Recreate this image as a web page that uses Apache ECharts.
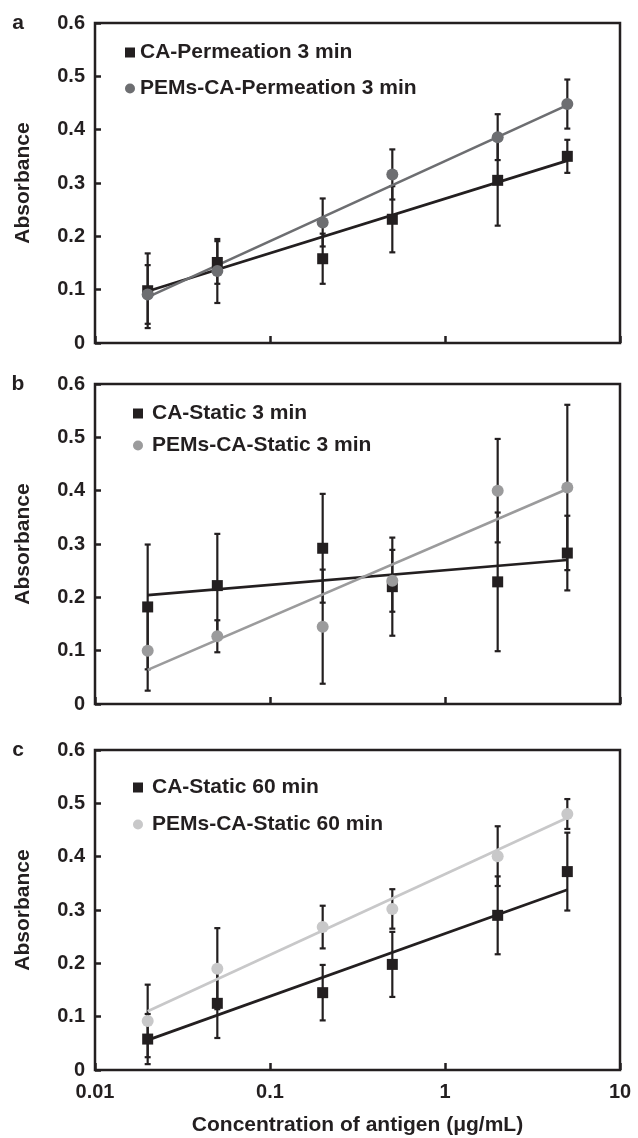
<!DOCTYPE html>
<html>
<head>
<meta charset="utf-8">
<script src="https://cdn.jsdelivr.net/npm/echarts@6/dist/echarts.min.js"></script>
<style>
html,body{margin:0;padding:0;background:#fff;}
#chart{width:638px;height:1138px;}
</style>
</head>
<body>
<div id="chart"></div>
<script>
// ---- data ----
const concentrations = [0.02, 0.05, 0.2, 0.5, 2, 5];
const fitX = [0.02, 5];
const xTickLabels = ['0.01', '0.1', '1', '10'];
const yTickLabels = ['0', '0.1', '0.2', '0.3', '0.4', '0.5', '0.6'];
const panelLetters = ['a', 'b', 'c'];

// panel a
const caPermName = 'CA-Permeation 3 min';
const caPerm = [0.098, 0.151, 0.158, 0.232, 0.305, 0.350];
const caPermErr = [0.070, 0.040, 0.047, 0.062, 0.085, 0.031];
const caPermFit = [0.097, 0.342];
const pemsPermName = 'PEMs-CA-Permeation 3 min';
const pemsPerm = [0.091, 0.135, 0.226, 0.316, 0.386, 0.448];
const pemsPermErr = [0.055, 0.060, 0.045, 0.047, 0.043, 0.046];
const pemsPermFit = [0.086, 0.446];

// panel b
const caStatic3Name = 'CA-Static 3 min';
const caStatic3 = [0.182, 0.222, 0.292, 0.220, 0.229, 0.283];
const caStatic3Err = [0.117, 0.097, 0.102, 0.092, 0.130, 0.070];
const caStatic3Fit = [0.204, 0.270];
const pemsStatic3Name = 'PEMs-CA-Static 3 min';
const pemsStatic3 = [0.100, 0.127, 0.145, 0.231, 0.400, 0.406];
const pemsStatic3Err = [0.075, 0.030, 0.107, 0.058, 0.097, 0.155];
const pemsStatic3Fit = [0.064, 0.403];

// panel c
const caStatic60Name = 'CA-Static 60 min';
const caStatic60 = [0.058, 0.125, 0.145, 0.198, 0.290, 0.372];
const caStatic60Err = [0.047, 0.065, 0.052, 0.061, 0.073, 0.073];
const caStatic60Fit = [0.056, 0.338];
const pemsStatic60Name = 'PEMs-CA-Static 60 min';
const pemsStatic60 = [0.092, 0.190, 0.268, 0.302, 0.401, 0.480];
const pemsStatic60Err = [0.068, 0.076, 0.040, 0.037, 0.056, 0.028];
const pemsStatic60Fit = [0.110, 0.473];

// ---- styling / layout ----
const FONT = '"Liberation Sans", Arial, Helvetica, sans-serif';
const INK = '#231f20';
const panels = [
  {top: 23, legendLeft: 125, legendTop: 42, legendGap: 15, textPad: 0,
   a: {name: caPermName, v: caPerm, e: caPermErr, f: caPermFit, color: INK},
   b: {name: pemsPermName, v: pemsPerm, e: pemsPermErr, f: pemsPermFit, color: '#6d6e71'}},
  {top: 384, legendLeft: 133, legendTop: 403, legendGap: 11, textPad: 4,
   a: {name: caStatic3Name, v: caStatic3, e: caStatic3Err, f: caStatic3Fit, color: INK},
   b: {name: pemsStatic3Name, v: pemsStatic3, e: pemsStatic3Err, f: pemsStatic3Fit, color: '#9b9b9c'}},
  {top: 750, legendLeft: 133, legendTop: 777, legendGap: 16, textPad: 4,
   a: {name: caStatic60Name, v: caStatic60, e: caStatic60Err, f: caStatic60Fit, color: INK},
   b: {name: pemsStatic60Name, v: pemsStatic60, e: pemsStatic60Err, f: pemsStatic60Fit, color: '#c8c8c9'}}
];
const GRID_LEFT = 95, GRID_W = 525, GRID_H = 320;

function errRender(params, api) {
  const x = api.value(0), lo = api.value(1), hi = api.value(2);
  const p1 = api.coord([x, hi]), p2 = api.coord([x, lo]);
  const w = 3;
  const st = {stroke: INK, lineWidth: 2.2};
  return {type: 'group', children: [
    {type: 'line', shape: {x1: p1[0], y1: p1[1], x2: p2[0], y2: p2[1]}, style: st},
    {type: 'line', shape: {x1: p1[0] - w, y1: p1[1], x2: p1[0] + w, y2: p1[1]}, style: st},
    {type: 'line', shape: {x1: p2[0] - w, y1: p2[1], x2: p2[0] + w, y2: p2[1]}, style: st}
  ]};
}

const grid = [], xAxis = [], yAxis = [], series = [], legend = [], graphic = [];
panels.forEach((p, i) => {
  grid.push({left: GRID_LEFT, top: p.top, width: GRID_W, height: GRID_H, show: true,
    borderColor: INK, borderWidth: 2.5, backgroundColor: 'transparent'});
  xAxis.push({type: 'log', logBase: 10, min: 0.01, max: 10, gridIndex: i,
    axisLine: {show: false}, splitLine: {show: false},
    axisTick: {show: true, inside: true, length: 7, lineStyle: {color: INK, width: 2.5}},
    axisLabel: {show: i === 2, margin: 12, color: INK, fontFamily: FONT, fontWeight: 'bold', fontSize: 20,
      formatter: v => { const k = Math.round(Math.log10(v)) + 2; return xTickLabels[k] ?? String(v); }}});
  yAxis.push({type: 'value', min: 0, max: 0.6, interval: 0.1, gridIndex: i,
    axisLine: {show: false}, splitLine: {show: false},
    axisTick: {show: true, inside: true, length: 6, lineStyle: {color: INK, width: 2.5}},
    axisLabel: {margin: 10, color: INK, fontFamily: FONT, fontWeight: 'bold', fontSize: 20,
      formatter: v => yTickLabels[Math.round(v * 10)]}});
  [p.a, p.b].forEach((s, j) => {
    series.push({type: 'custom', xAxisIndex: i, yAxisIndex: i, z: 2, silent: true,
      renderItem: errRender, encode: {x: 0, y: [1, 2]},
      data: concentrations.map((c, k) => [c, s.v[k] - s.e[k], s.v[k] + s.e[k]])});
    series.push({type: 'line', xAxisIndex: i, yAxisIndex: i, z: 3, silent: true,
      showSymbol: false, symbol: 'none', lineStyle: {color: s.color, width: 2.7},
      data: fitX.map((c, k) => [c, s.f[k]])});
    series.push({type: 'scatter', name: s.name, xAxisIndex: i, yAxisIndex: i, z: 4,
      symbol: j === 0 ? 'rect' : 'circle', symbolSize: j === 0 ? 11 : 12,
      itemStyle: {color: s.color, opacity: 1},
      data: concentrations.map((c, k) => [c, s.v[k]])});
  });
  legend.push({show: true, orient: 'vertical', left: p.legendLeft, top: p.legendTop,
    itemGap: p.legendGap, itemWidth: 10, itemHeight: 10, padding: 0,
    selectedMode: false,
    data: [{name: p.a.name, icon: 'rect'}, {name: p.b.name, icon: 'circle'}],
    textStyle: {color: INK, fontFamily: FONT, fontWeight: 'bold', fontSize: 21, lineHeight: 20,
      padding: [0, 0, 0, p.textPad]}});
  graphic.push({type: 'text', x: 18, y: p.top, style: {text: panelLetters[i], fill: INK,
    font: 'bold 21px ' + FONT, textAlign: 'center', textVerticalAlign: 'middle'}});
  graphic.push({type: 'text', x: 23, y: p.top + GRID_H / 2, rotation: Math.PI / 2,
    style: {text: 'Absorbance', fill: INK, font: 'bold 21px ' + FONT,
      textAlign: 'center', textVerticalAlign: 'middle'}});
});
graphic.push({type: 'text', x: GRID_LEFT + GRID_W / 2, y: 1125,
  style: {text: 'Concentration of antigen (\u03bcg/mL)', fill: INK, font: 'bold 21px ' + FONT,
    textAlign: 'center', textVerticalAlign: 'middle'}});

const chart = echarts.init(document.getElementById('chart'), null, {renderer: 'canvas'});
chart.setOption({animation: false, backgroundColor: '#fff', grid, xAxis, yAxis, series, legend, graphic});
</script>
</body>
</html>
